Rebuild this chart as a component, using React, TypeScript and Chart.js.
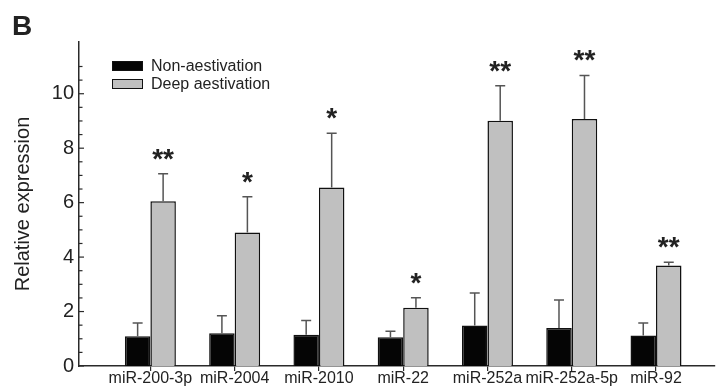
import React, { useEffect, useRef } from "react";
import { Chart, registerables } from "chart.js";

Chart.register(...registerables);

const categories = ["miR-200-3p", "miR-2004", "miR-2010", "miR-22", "miR-252a", "miR-252a-5p", "miR-92"];
const nonAestivation = [1.09, 1.2, 1.15, 1.06, 1.49, 1.4, 1.12];
const nonAestivationErr = [0.49, 0.65, 0.52, 0.22, 1.19, 1.02, 0.46];
const deepAestivation = [6.05, 4.9, 6.56, 2.14, 9.01, 9.07, 3.69];
const deepAestivationErr = [1.01, 1.32, 1.99, 0.37, 1.28, 1.6, 0.12];
const significance = ["**", "*", "*", "*", "**", "**", "**"];
const seriesLabels = ["Non-aestivation", "Deep aestivation"];
const yLabelTicks = [0, 2, 4, 6, 8, 10];

const FONT = "'Liberation Sans', Arial, sans-serif";
const AXIS = "#2a2a2a";

const overlay = {
  id: "overlay",
  afterDatasetsDraw(chart: any) {
    const ctx = chart.ctx;
    const y = chart.scales.y;
    const vals = [nonAestivation, deepAestivation];
    const errs = [nonAestivationErr, deepAestivationErr];
    ctx.save();
    for (let d = 0; d < 2; d++) {
      const meta = chart.getDatasetMeta(d);
      meta.data.forEach((bar: any, i: number) => {
        const top = y.getPixelForValue(vals[d][i]);
        const cap = y.getPixelForValue(vals[d][i] + errs[d][i]);
        ctx.strokeStyle = "#555";
        ctx.lineWidth = 1.5;
        ctx.beginPath();
        ctx.moveTo(bar.x, top);
        ctx.lineTo(bar.x, cap);
        ctx.moveTo(bar.x - 5, cap);
        ctx.lineTo(bar.x + 5, cap);
        ctx.stroke();
        if (d === 1) {
          ctx.fillStyle = "#222";
          ctx.font = `bold 28px ${FONT}`;
          ctx.textAlign = "center";
          ctx.textBaseline = "alphabetic";
          ctx.fillText(significance[i], bar.x, cap - 6);
        }
      });
    }
    ctx.restore();
  },
  afterDraw(chart: any) {
    const ctx = chart.ctx;
    const y = chart.scales.y;
    ctx.save();
    ctx.strokeStyle = AXIS;
    ctx.lineWidth = 1.2;
    const x0 = y.right;
    y.ticks.forEach((t: any) => {
      const v = t.value;
      if (Math.abs(v * 2 - Math.round(v * 2)) > 1e-6) return;
      const py = y.getPixelForValue(v);
      const major = Math.abs(v / 2 - Math.round(v / 2)) < 1e-6;
      ctx.beginPath();
      ctx.moveTo(x0, py);
      ctx.lineTo(x0 + (major ? 5 : 3.5), py);
      ctx.stroke();
    });
    const colors = ["#050505", "#c0c0c0"];
    seriesLabels.forEach((lab, i) => {
      const cy = 66 + i * 18;
      ctx.fillStyle = colors[i];
      ctx.fillRect(112, cy - 5, 31, 10);
      ctx.strokeStyle = "#111";
      ctx.lineWidth = 1;
      ctx.strokeRect(112.5, cy - 4.5, 30, 9);
      ctx.fillStyle = "#222";
      ctx.font = `16px ${FONT}`;
      ctx.textAlign = "left";
      ctx.textBaseline = "middle";
      ctx.fillText(lab, 151, cy + 1);
    });
    ctx.fillStyle = "#222";
    ctx.font = `bold 28px ${FONT}`;
    ctx.textAlign = "left";
    ctx.textBaseline = "alphabetic";
    ctx.fillText("B", 12, 35);
    ctx.restore();
  },
};

export default function App() {
  const ref = useRef<HTMLCanvasElement>(null);
  useEffect(() => {
    if (!ref.current) return;
    Chart.defaults.font.family = FONT;
    const chart = new Chart(ref.current, {
      type: "bar",
      data: {
        datasets: [
          {
            label: seriesLabels[0],
            data: nonAestivation.map((v, i) => ({ x: i + 1, y: v })),
            backgroundColor: "#050505",
            borderColor: "#111",
            borderWidth: 1.5,
          },
          {
            label: seriesLabels[1],
            data: deepAestivation.map((v, i) => ({ x: i + 1, y: v })),
            backgroundColor: "#c0c0c0",
            borderColor: "#111",
            borderWidth: 1.5,
          },
        ],
      },
      plugins: [overlay],
      options: {
        animation: false,
        responsive: false,
        maintainAspectRatio: false,
        datasets: { bar: { categoryPercentage: 0.605, barPercentage: 1.0 } },
        layout: { padding: { top: 42, right: 5, left: 0, bottom: 0 } },
        plugins: { legend: { display: false }, tooltip: { enabled: false } },
        scales: {
          x: {
            type: "linear",
            min: 0.153,
            max: 7.7,
            offset: false,
            afterBuildTicks: (axis: any) => {
              axis.ticks = categories.map((_, i) => ({ value: i + 1 }));
            },
            afterFit: (s: any) => {
              s.height = 21;
            },
            grid: { display: true, drawOnChartArea: false, drawTicks: true, tickLength: 5, color: AXIS, offset: false, lineWidth: 1.2 },
            border: { display: true, color: AXIS, width: 1.5 },
            ticks: {
              autoSkip: false,
              maxRotation: 0,
              padding: -2,
              color: "#222",
              font: { size: 16 },
              callback: (v: any) => categories[Math.round(v) - 1] ?? "",
            },
          },
          y: {
            min: 0,
            max: 11.9,
            afterFit: (s: any) => {
              s.width = 79;
            },
            grid: { display: false, drawTicks: false, tickLength: 0 },
            border: { display: true, color: AXIS, width: 1.5 },
            ticks: {
              stepSize: 0.5,
              autoSkip: false,
              padding: 5,
              color: "#222",
              font: { size: 20 },
              callback: (v: any) => (yLabelTicks.includes(Number(v)) ? String(v) : ""),
            },
            title: {
              display: true,
              text: "Relative expression",
              color: "#222",
              font: { size: 20 },
              padding: { top: 11, bottom: 0 },
            },
          },
        },
      },
    });
    return () => chart.destroy();
  }, []);
  return (
    <div style={{ position: "fixed", left: 0, top: 0, width: 720, height: 387 }}>
      <canvas ref={ref} width={720} height={387} style={{ width: 720, height: 387 }} />
    </div>
  );
}
